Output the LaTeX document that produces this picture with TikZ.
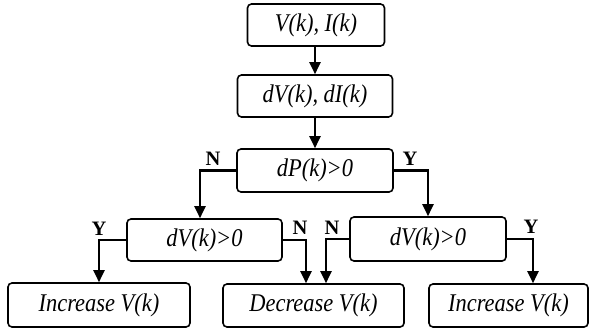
\documentclass[tikz,border=0pt]{standalone}
\usepackage{fontspec}
\setmainfont{Liberation Serif}
\newfontfamily\boxfont[FakeStretch=0.88]{Liberation Serif}
\usetikzlibrary{arrows.meta,calc}
\begin{document}
\begin{tikzpicture}[x=1pt,y=-1pt,
  box/.style={draw=black,line width=1.6pt,rounded corners=4pt,minimum height=42pt,inner sep=0pt,
    font=\boxfont\fontsize{25.5}{27}\selectfont\itshape},
  conn/.style={line width=2.2pt,-{Triangle[length=12pt,width=11pt]}},
  lab/.style={font=\fontsize{20.5}{22}\selectfont\bfseries,inner sep=0pt}]
\useasboundingbox (0,0) rectangle (589,332);
\node[box,minimum width=137pt] (b1) at (316,25) {V(k), I(k)};
\node[box,minimum width=155pt] (b2) at (315,96) {dV(k), dI(k)};
\node[box,minimum width=156pt,minimum height=43pt] (b3) at (315,170.5) {dP(k)>0};
\node[box,minimum width=155pt] (b4) at (204.5,240) {dV(k)>0};
\node[box,minimum width=156pt,minimum height=44pt] (b5) at (428,239) {dV(k)>0};
\node[box,minimum width=182pt,minimum height=44pt] (b6) at (99,305) {Increase V(k)};
\node[box,minimum width=181pt,minimum height=43pt] (b7) at (313.5,305.5) {Decrease V(k)};
\node[box,minimum width=159pt,minimum height=43pt] (b8) at (508.5,305.5) {Increase V(k)};
\draw[conn] (b1.south -| 315,0) -- (b2.north -| 315,0);
\draw[conn] (b2.south) -- (b3.north);
\draw[conn] (b3.west) -| (b4.north -| 200,0);
\draw[conn] (b3.east) -| (b5.north);
\draw[conn] (b4.west) -| (b6.north);
\draw[conn] (b4.east) -| ($(b7.north)+(-7.5,0)$);
\draw[conn] (b5.west) -| ($(b7.north)+(12.5,0)$);
\draw[conn] (b5.east) -| ($(b8.north)+(24.5,0)$);
\node[lab] (n1) at (213,159) {N};
\node[lab] (y1) at (410,159) {Y};
\node[lab] (y2) at (99,229) {Y};
\node[lab] (n2) at (300,228) {N};
\node[lab] (n3) at (332,228) {N};
\node[lab] (y3) at (531,227) {Y};
\end{tikzpicture}
\end{document}
